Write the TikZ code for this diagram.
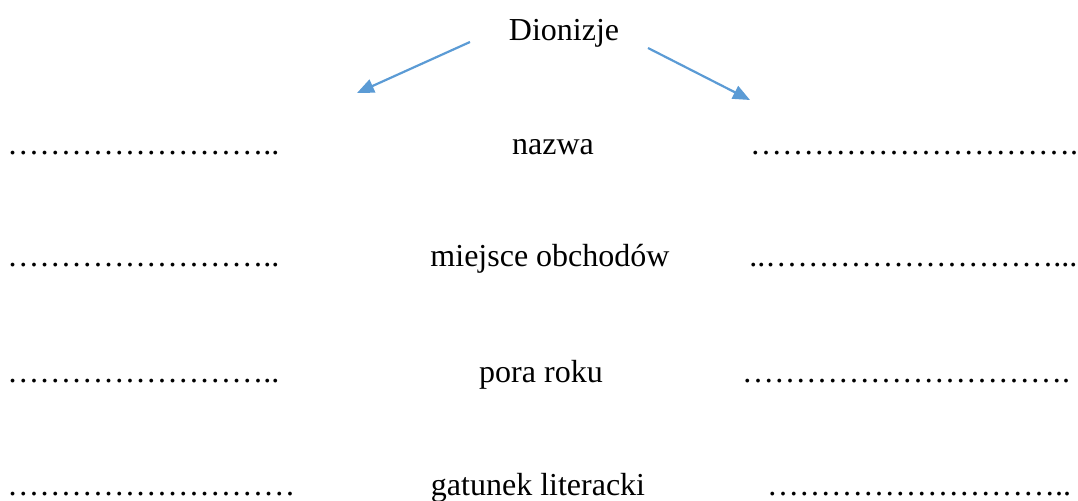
\documentclass[tikz,border=0pt]{standalone}
\usepackage{fontspec}
\setmainfont{Liberation Serif}
\usetikzlibrary{arrows.meta}
\definecolor{arrblue}{RGB}{91,155,213}
\newcommand{\myel}{…}
\newcommand{\myfive}{\myel\myel\myel\myel\myel}
\begin{document}
\begin{tikzpicture}[x=0.5pt,y=-0.5pt,
  txt/.style={inner sep=0pt,outer sep=0pt,font=\fontsize{16pt}{19pt}\selectfont},
  lbl/.style={txt,anchor=base},
  dots/.style={txt,anchor=base west},
  arr/.style={draw=arrblue,line width=1.1pt,-{Triangle[length=8.5pt,width=7pt]}}]
\useasboundingbox (0,0) rectangle (1078,501);
% title
\node[lbl] (dion) at (564,41) {Dionizje};
% arrows
\coordinate (l0) at (470,42);
\coordinate (l1) at (357,93);
\coordinate (r0) at (648,48);
\coordinate (r1) at (750,100);
\draw[arr] (l0) -- (l1);
\draw[arr] (r0) -- (r1);
% centre labels
\node[lbl] (c1) at (553,155) {nazwa};
\node[lbl] (c2) at (550,267) {miejsce obchodów};
\node[lbl] (c3) at (541,383) {pora roku};
\node[lbl] (c4) at (538,496) {gatunek literacki};
% left dotted lines
\node[dots] (lt1) at (7.3,155) {\myfive\myel\myel\myel..};
\node[dots] (lt2) at (7.3,267) {\myfive\myel\myel\myel..};
\node[dots] (lt3) at (7.3,383) {\myfive\myel\myel\myel..};
\node[dots] (lt4) at (7.3,496) {\myfive\myel\myel\myel\myel};
% right dotted lines
\node[dots] (rt1) at (750,155) {\myfive\myfive.};
\node[dots] (rt2) at (749.3,267) {..\myfive\myel\myel\myel\myel...};
\node[dots] (rt3) at (742,383) {\myfive\myfive.};
\node[dots] (rt4) at (767,496) {\myfive\myel\myel\myel\myel..};
\end{tikzpicture}
\end{document}
